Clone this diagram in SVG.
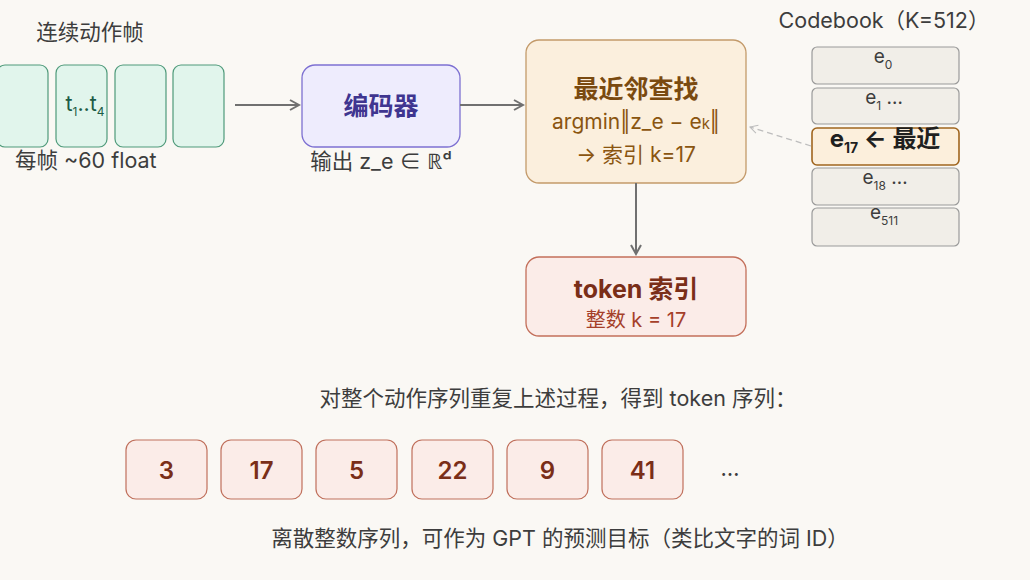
<svg xmlns="http://www.w3.org/2000/svg" width="1030" height="580" viewBox="0 0 1030 580">
<defs>
<style>
text{font-family:Inter,"Noto Sans","Noto Sans CJK SC",sans-serif;}
.lbl{font-size:21.5px;fill:#3d3d3d;}
.frame{fill:#e1f5ec;stroke:#4f9a7a;stroke-width:1.2;}
.cb{fill:#f1eee8;stroke:#9a9a9a;stroke-width:1.2;}
.cbt{font-size:19px;fill:#3d3d3d;text-anchor:middle;}
.tok{fill:#fbece8;stroke:#c0705c;stroke-width:1.2;}
.tokt{font-size:24px;font-weight:600;fill:#7a2e18;text-anchor:middle;}
.sub{font-size:12px;}
.conn{stroke:#707070;stroke-width:2;fill:none;}
</style>
<marker id="ah" viewBox="0 0 12 12" refX="10" refY="6" markerWidth="12" markerHeight="12" markerUnits="userSpaceOnUse" orient="auto">
<path d="M1,1 L10,6 L1,11" fill="none" stroke="#707070" stroke-width="2"/>
</marker>
<marker id="ahd" viewBox="0 0 12 12" refX="10" refY="6" markerWidth="10" markerHeight="10" markerUnits="userSpaceOnUse" orient="auto">
<path d="M1,1 L10,6 L1,11" fill="none" stroke="#bdbdbd" stroke-width="1.3"/>
</marker>
</defs>
<rect width="1030" height="580" fill="#faf8f4"/>

<g id="frames">
<text class="lbl" x="90" y="40" text-anchor="middle">连续动作帧</text>
<rect class="frame" x="-3" y="65" width="51" height="82" rx="8"/>
<rect class="frame" x="56" y="65" width="51" height="82" rx="8"/>
<rect class="frame" x="115" y="65" width="51" height="82" rx="8"/>
<rect class="frame" x="173" y="65" width="51" height="82" rx="8"/>
<text x="85" y="111" text-anchor="middle" font-size="21.5" fill="#1c5c46">t<tspan class="sub" dy="5">1</tspan><tspan dy="-5">..t</tspan><tspan class="sub" dy="5">4</tspan></text>
<text class="lbl" x="15" y="168">每帧 ~60 float</text>
</g>

<g id="encoder">
<rect x="302" y="65" width="158" height="82" rx="13" fill="#eeecfd" stroke="#7d70d2" stroke-width="1.3"/>
<text x="381" y="115" text-anchor="middle" font-size="25" font-weight="bold" fill="#3f3590">编码器</text>
<text class="lbl" x="381" y="169" text-anchor="middle">输出 z_e ∈ ℝᵈ</text>
</g>

<g id="lookup">
<rect x="526" y="40" width="220" height="143" rx="13" fill="#fbefdd" stroke="#c39a6a" stroke-width="1.3"/>
<text x="636" y="98" text-anchor="middle" font-size="25" font-weight="bold" fill="#7a4a10">最近邻查找</text>
<text x="636" y="129" text-anchor="middle" font-size="21" fill="#8a5510">argmin‖z_e − e<tspan font-size="15">k</tspan>‖</text>
<text x="636" y="162" text-anchor="middle" font-size="21" fill="#8a5510">→ 索引 k=17</text>
</g>

<g id="token">
<rect x="526" y="257" width="220" height="79" rx="13" fill="#fbece8" stroke="#c36f5a" stroke-width="1.3"/>
<text x="636" y="298" text-anchor="middle" font-size="25" font-weight="bold" fill="#7a2e18">token 索引</text>
<text x="636" y="327" text-anchor="middle" font-size="20" fill="#a5402a">整数 k = 17</text>
</g>

<g id="codebook">
<text class="lbl" x="884" y="28" text-anchor="middle" font-size="20.5">Codebook（K=512）</text>
<rect class="cb" x="812" y="47" width="147" height="37" rx="5"/>
<text class="cbt" x="883" y="63">e<tspan class="sub" dy="6">0</tspan></text>
<rect class="cb" x="812" y="88" width="147" height="36" rx="5"/>
<text class="cbt" x="884" y="104">e<tspan class="sub" dy="6">1</tspan><tspan dy="-6"> …</tspan></text>
<rect x="812" y="128" width="147" height="37" rx="5" fill="#fcefdc" stroke="#a0651e" stroke-width="1.6"/>
<text x="885" y="147" text-anchor="middle" font-size="24" font-weight="bold" fill="#1f1f1f">e<tspan font-size="14" dy="6">17</tspan><tspan dy="-6"> ← 最近</tspan></text>
<rect class="cb" x="812" y="168" width="147" height="37" rx="5"/>
<text class="cbt" x="885" y="184">e<tspan class="sub" dy="6">18</tspan><tspan dy="-6"> …</tspan></text>
<rect class="cb" x="812" y="208" width="147" height="38" rx="5"/>
<text class="cbt" x="884" y="219">e<tspan class="sub" dy="6">511</tspan></text>
</g>

<g id="connectors">
<line class="conn" x1="235" y1="105" x2="299" y2="105" marker-end="url(#ah)"/>
<line class="conn" x1="460" y1="105" x2="523" y2="105" marker-end="url(#ah)"/>
<line class="conn" x1="636" y1="183" x2="636" y2="254" marker-end="url(#ah)"/>
<line x1="811" y1="146" x2="750" y2="127" stroke="#bdbdbd" stroke-width="1.3" stroke-dasharray="6,4" marker-end="url(#ahd)"/>
</g>

<g id="sequence">
<text class="lbl" x="558" y="406" text-anchor="middle">对整个动作序列重复上述过程，得到 token 序列：</text>
<rect class="tok" x="126" y="440" width="81" height="59" rx="10"/>
<text class="tokt" x="166.5" y="479">3</text>
<rect class="tok" x="221" y="440" width="81" height="59" rx="10"/>
<text class="tokt" x="261.5" y="479">17</text>
<rect class="tok" x="316" y="440" width="81" height="59" rx="10"/>
<text class="tokt" x="356.5" y="479">5</text>
<rect class="tok" x="412" y="440" width="81" height="59" rx="10"/>
<text class="tokt" x="452.5" y="479">22</text>
<rect class="tok" x="507" y="440" width="81" height="59" rx="10"/>
<text class="tokt" x="547.5" y="479">9</text>
<rect class="tok" x="602" y="440" width="81" height="59" rx="10"/>
<text class="tokt" x="642.5" y="479">41</text>
<text x="730" y="476" text-anchor="middle" font-size="22" fill="#3d3d3d">…</text>
<text class="lbl" x="560" y="546" text-anchor="middle">离散整数序列，可作为 GPT 的预测目标（类比文字的词 ID）</text>
</g>
</svg>
